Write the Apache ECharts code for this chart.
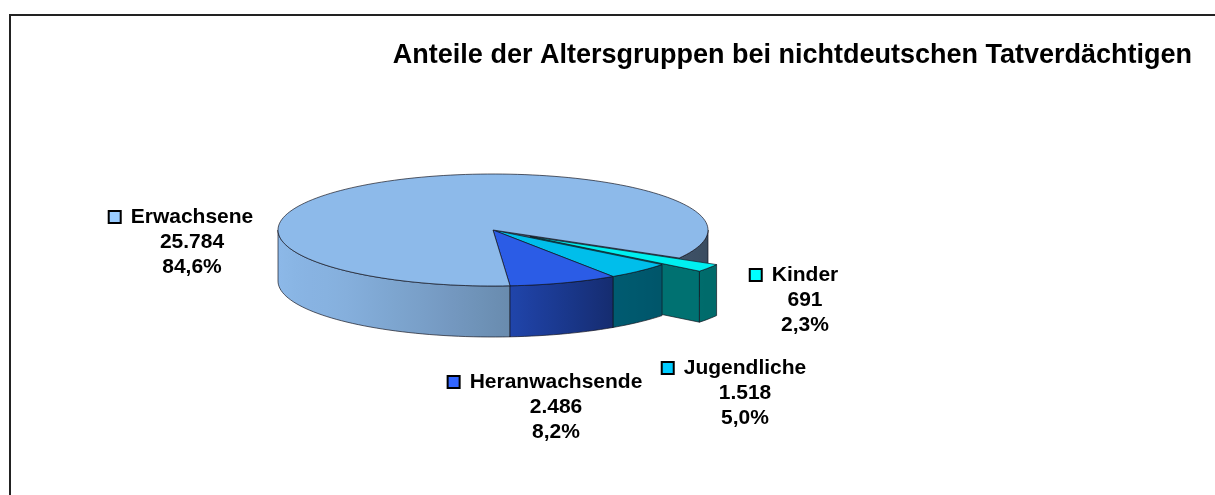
<!DOCTYPE html>
<html>
<head>
<meta charset="utf-8">
<script src="https://cdn.jsdelivr.net/npm/echarts@6/dist/echarts.min.js"></script>
<style>
html,body{margin:0;padding:0;background:#fff;}
#c{width:1215px;height:495px;}
</style>
</head>
<body>
<div id="c"></div>
<script>
// ---------- data ----------
const titleText = 'Anteile der Altersgruppen bei nichtdeutschen Tatverdächtigen';
const categories = ['Kinder', 'Jugendliche', 'Heranwachsende', 'Erwachsene'];
const values = [691, 1518, 2486, 25784];

// ---------- styling / layout ----------
const topColors = ['#00F0F0', '#00BEEB', '#2B5CE6', '#8DBAEA'];
const keyColors = ['#00FFFF', '#00CCFF', '#3366FF', '#99CCFF'];
const explode = [0.21, 0, 0, 0];
// label first-line centre, relative to the pie centre
const labelOffsets = [[312, 45], [252, 138], [63, 152], [-301, -13]];
const PIE = { cx: 493, cy: 230, rx: 215, ry: 56, depth: 51, startAngle: 30 };
const FONT = 'Liberation Sans, Arial, sans-serif';

const total = values.reduce((a, b) => a + b, 0);
const cumul = [];
(function () { let acc = 0; values.forEach(v => { cumul.push(acc); acc += v; }); })();

function fmtInt(v) { return String(v).replace(/\B(?=(\d{3})+(?!\d))/g, '.'); }
function fmtPct(v) { return (v / total * 100).toFixed(1).replace('.', ',') + '%'; }

const shadeTable = [[0, 0.40], [38, 0.45], [56, 0.48], [86, 0.75], [110, 0.86], [135, 0.95], [180, 1.0]];
function shade(th) {
  let t = ((th % 360) + 360) % 360;
  if (t > 180) t = 180;
  for (let i = 1; i < shadeTable.length; i++) {
    const [a0, f0] = shadeTable[i - 1], [a1, f1] = shadeTable[i];
    if (t <= a1) return f0 + (f1 - f0) * (t - a0) / (a1 - a0);
  }
  return 1;
}
function mul(hex, f) {
  const n = parseInt(hex.slice(1), 16);
  const r = Math.min(255, Math.round(((n >> 16) & 255) * f));
  const g = Math.min(255, Math.round(((n >> 8) & 255) * f));
  const b = Math.min(255, Math.round((n & 255) * f));
  return 'rgb(' + r + ',' + g + ',' + b + ')';
}
const rad = d => d * Math.PI / 180;
function pt(th, ox, oy, down) {
  return [PIE.cx + ox + PIE.rx * Math.cos(rad(th)), PIE.cy + oy + PIE.ry * Math.sin(rad(th)) + (down ? PIE.depth : 0)];
}
function arc(a0, a1, ox, oy, down) {
  const n = Math.max(2, Math.ceil(Math.abs(a1 - a0) / 2));
  const out = [];
  for (let i = 0; i <= n; i++) out.push(pt(a0 + (a1 - a0) * i / n, ox, oy, down));
  return out;
}
const EDGE = { stroke: 'rgba(20,20,30,0.85)', lineWidth: 0.8, lineJoin: 'round' };

function renderItem(params, api) {
  const i = params.dataIndex;
  const v = api.value(0);
  const base = topColors[i];
  const a0 = PIE.startAngle + cumul[i] / total * 360;
  const a1 = a0 + v / total * 360;
  const mid = (a0 + a1) / 2;
  const e = explode[i];
  const ox = e * PIE.rx * Math.cos(rad(mid));
  const oy = e * PIE.ry * Math.sin(rad(mid));
  const children = [];
  const apexT = [PIE.cx + ox, PIE.cy + oy];
  const apexB = [PIE.cx + ox, PIE.cy + oy + PIE.depth];

  // radial faces (exploded slices: drawn just before their own outer wall)
  const faces = [];
  if (Math.cos(rad(a0)) < 0) faces.push(a0);
  if (Math.cos(rad(a1)) > 0) faces.push(a1);
  faces.forEach(a => {
    children.push({
      type: 'polygon',
      z2: e > 0 ? 9 + Math.round(Math.sin(rad(mid)) * 50) : 1,
      shape: { points: [apexT, pt(a, ox, oy, false), pt(a, ox, oy, true), apexB] },
      style: Object.assign({ fill: mul(base, 0.47) }, EDGE)
    });
  });

  // outer walls: visible in [0,180] (+360k)
  for (let k = 0; k < 2; k++) {
    const b0 = Math.max(a0, 360 * k), b1 = Math.min(a1, 360 * k + 180);
    if (b1 - b0 <= 0.01) continue;
    const pts = arc(b0, b1, ox, oy, false).concat(arc(b1, b0, ox, oy, true));
    const c0 = Math.cos(rad(b0)), c1 = Math.cos(rad(b1));
    const xmin = Math.min(c0, c1), xmax = Math.max(c0, c1);
    const stops = [];
    const N = 12;
    for (let s = 0; s <= N; s++) {
      const th = b0 + (b1 - b0) * s / N;
      const off = xmax - xmin > 1e-6 ? (Math.cos(rad(th)) - xmin) / (xmax - xmin) : s / N;
      stops.push({ offset: Math.min(1, Math.max(0, off)), color: mul(base, shade(th)) });
    }
    stops.sort((p, q) => p.offset - q.offset);
    const midW = (b0 + b1) / 2;
    children.push({
      type: 'polygon', z2: 10 + Math.round(Math.sin(rad(e > 0 ? mid : midW)) * 50),
      shape: { points: pts },
      style: Object.assign({ fill: new echarts.graphic.LinearGradient(0, 0, 1, 0, stops) }, EDGE)
    });
  }

  // top face
  children.push({
    type: 'polygon', z2: 100 + (e > 0 ? 1 : 0),
    shape: { points: [apexT].concat(arc(a0, a1, ox, oy, false)) },
    style: Object.assign({ fill: base }, EDGE)
  });

  // label
  const lo = labelOffsets[i];
  children.push({
    type: 'text', z2: 200,
    x: PIE.cx + lo[0], y: PIE.cy + lo[1] - 12.5,
    style: {
      text: '{k|}{g|}{n|' + categories[i] + '}{p|}\n{n|' + fmtInt(v) + '}\n{n|' + fmtPct(v) + '}',
      align: 'center', verticalAlign: 'top',
      rich: {
        k: { width: 10, height: 10, backgroundColor: keyColors[i], borderColor: '#000', borderWidth: 2 },
        g: { width: 11, height: 10 },
        p: { width: 21, height: 10 },
        n: { fontFamily: FONT, fontSize: 21, fontWeight: 'bold', color: '#111', lineHeight: 25 }
      }
    }
  });

  return { type: 'group', children: children };
}

const chart = echarts.init(document.getElementById('c'), null, { renderer: 'canvas' });
chart.setOption({
  animation: false,
  backgroundColor: '#fff',
  title: {
    text: titleText, right: 23, top: 42, padding: 0,
    textStyle: { fontFamily: FONT, fontSize: 27, fontWeight: 'bold', color: '#000' }
  },
  graphic: [{
    type: 'rect', silent: true, z: 0,
    shape: { x: 10, y: 15, width: 1400, height: 700 },
    style: { fill: 'none', stroke: '#222', lineWidth: 2 }
  }],
  series: [{
    type: 'custom',
    coordinateSystem: 'none',
    silent: true,
    data: values.map((v, i) => ({ name: categories[i], value: [v] })),
    renderItem: renderItem
  }]
});
</script>
</body>
</html>
